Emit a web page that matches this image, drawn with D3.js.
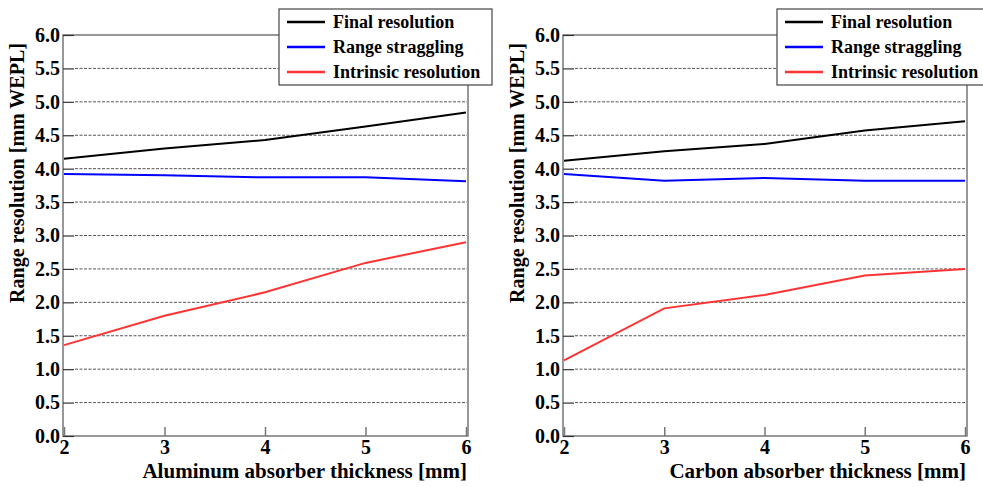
<!DOCTYPE html>
<html>
<head>
<meta charset="utf-8">
<script src="https://cdn.jsdelivr.net/npm/d3@7"></script>
<style>
  body { margin: 0; background: #fff; }
  svg { display: block; }
  svg text { font-family: "Liberation Serif", "Times New Roman", serif; font-weight: bold; fill: #000; }
</style>
</head>
<body>
<svg id="chart" width="983" height="487"></svg>
<script>
// valores
const thickness = [2, 3, 4, 5, 6]
const yTicks = [0, 0.5, 1, 1.5, 2, 2.5, 3, 3.5, 4, 4.5, 5, 5.5, 6]
const seriesNames = ["Final resolution", "Range straggling", "Intrinsic resolution"]
const seriesColors = ["#000000", "#0000ff", "#ff3333"]

const alFinal = [4.15, 4.30, 4.43, 4.63, 4.84]
const alStraggling = [3.92, 3.90, 3.87, 3.87, 3.81]
const alIntrinsic = [1.36, 1.80, 2.15, 2.59, 2.90]

const cFinal = [4.12, 4.26, 4.37, 4.57, 4.71]
const cStraggling = [3.92, 3.82, 3.86, 3.82, 3.82]
const cIntrinsic = [1.13, 1.91, 2.11, 2.40, 2.50]

const panels = [
    { x0: 64, x1: 466, title: "Aluminum absorber thickness [mm]", series: [alFinal, alStraggling, alIntrinsic], legendX: 279 },
    { x0: 564, x1: 965, title: "Carbon absorber thickness [mm]", series: [cFinal, cStraggling, cIntrinsic], legendX: 777 }
]

const plotTop = 35, plotBottom = 436

const svg = d3.select("#chart")

panels.forEach(p => {
    const g = svg.append("g")

    let xScale = d3.scaleLinear().domain([2, 6]).range([p.x0, p.x1])
    let yScale = d3.scaleLinear().domain([0, 6]).range([plotBottom, plotTop])

    // grelha
    g.selectAll("line.grid")
        .data(yTicks.filter(d => d > 0 && d < 6))
        .join("line")
        .attr("class", "grid")
        .attr("x1", p.x0 + 11).attr("x2", p.x1 + 1)
        .attr("y1", d => yScale(d)).attr("y2", d => yScale(d))
        .attr("stroke", "#555")
        .attr("stroke-width", 1)
        .attr("stroke-dasharray", "3,1.5")

    // caixa
    g.append("rect")
        .attr("x", p.x0 - 1).attr("y", plotTop)
        .attr("width", p.x1 - p.x0 + 3).attr("height", plotBottom - plotTop)
        .attr("fill", "none")
        .attr("stroke", "#777")
        .attr("stroke-width", 1.5)

    // eixo Y
    const yAxis = g.append("g")
        .attr("transform", `translate(${p.x0 - 1},0)`)
        .call(d3.axisLeft(yScale).tickValues(yTicks).tickFormat(d3.format(".1f")).tickSizeInner(-11).tickSizeOuter(0).tickPadding(3))
    yAxis.select(".domain").remove()
    yAxis.selectAll("line").attr("stroke", "#333").attr("stroke-width", 1.2)
    yAxis.selectAll("text").attr("font-size", 20)

    // eixo X
    const xAxis = g.append("g")
        .attr("transform", `translate(0,${plotBottom})`)
        .call(d3.axisBottom(xScale).tickValues(thickness).tickFormat(d3.format("d")).tickSizeInner(-9).tickSizeOuter(0).tickPadding(4))
    xAxis.select(".domain").remove()
    xAxis.selectAll("line").attr("stroke", "#777").attr("stroke-width", 1.5)
    xAxis.selectAll("text").attr("font-size", 20)

    // títulos
    g.append("text")
        .attr("x", p.x1 + 1).attr("y", 478)
        .attr("text-anchor", "end")
        .attr("font-size", 21)
        .text(p.title)

    g.append("text")
        .attr("transform", `translate(${p.x0 - 40},173) rotate(-90)`)
        .attr("text-anchor", "middle")
        .attr("font-size", 20)
        .text("Range resolution [mm WEPL]")

    // linhas
    const line = d3.line().x((d, i) => xScale(thickness[i])).y(d => yScale(d))
    p.series.forEach((s, k) => {
        g.append("path")
            .datum(s)
            .attr("d", line)
            .attr("fill", "none")
            .attr("stroke", seriesColors[k])
            .attr("stroke-width", 2)
    })

    // legenda
    const lg = g.append("g").attr("transform", `translate(${p.legendX},9)`)
    lg.append("rect")
        .attr("width", 213).attr("height", 76)
        .attr("fill", "#fff").attr("stroke", "#444").attr("stroke-width", 1.2)
    seriesNames.forEach((name, k) => {
        lg.append("line")
            .attr("x1", 8).attr("x2", 46)
            .attr("y1", 13 + k * 25).attr("y2", 13 + k * 25)
            .attr("stroke", seriesColors[k]).attr("stroke-width", 2.5)
        lg.append("text")
            .attr("x", 54).attr("y", 19 + k * 25)
            .attr("font-size", 18)
            .text(name)
    })
})
</script>
</body>
</html>
